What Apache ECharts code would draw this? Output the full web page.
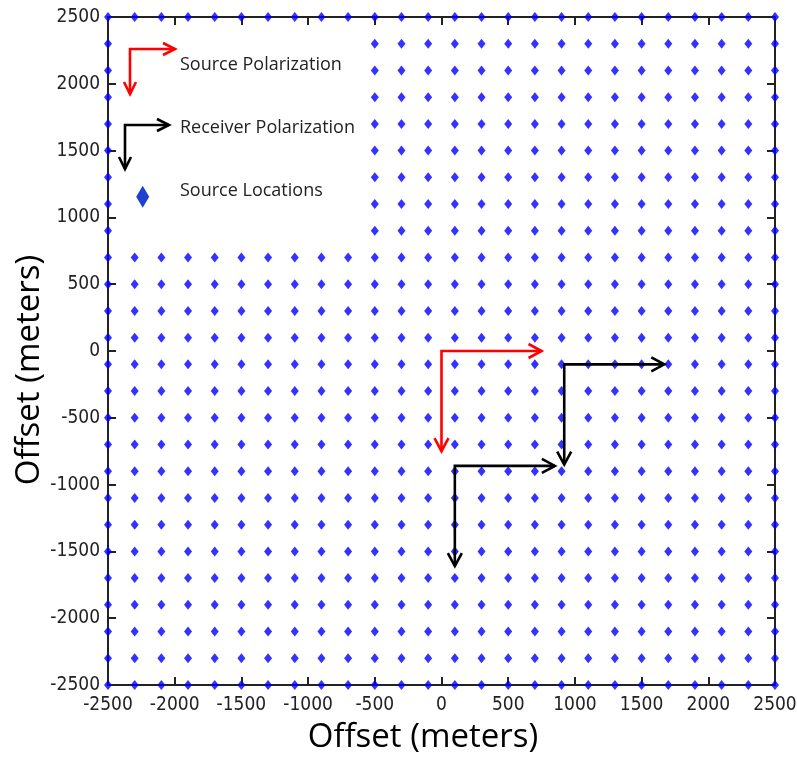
<!DOCTYPE html>
<html>
<head>
<meta charset="utf-8">
<script src="https://cdn.jsdelivr.net/npm/echarts@6/dist/echarts.min.js"></script>
<style>
  html, body { margin: 0; padding: 0; background: #ffffff; }
  #chart { width: 797px; height: 759px; }
</style>
</head>
<body>
<div id="chart"></div>
<script>
// Source grid: column and row offsets (meters)
const colX = [-2500, -2300, -2100, -1900, -1700, -1500, -1300, -1100, -900, -700, -500, -300, -100,
              100, 300, 500, 700, 900, 1100, 1300, 1500, 1700, 1900, 2100, 2300, 2500];
// rows that span the full width
const rowsFull = [-2500, -2300, -2100, -1900, -1700, -1500, -1300, -1100, -900, -700, -500, -300, -100,
                  100, 300, 500, 700, 2500];
// rows in the upper block, where the upper-left corner is empty
const rowsUpper = [900, 1100, 1300, 1500, 1700, 1900, 2100, 2300];
const colsUpper = [-2500, -500, -300, -100, 100, 300, 500, 700, 900, 1100, 1300, 1500, 1700, 1900, 2100, 2300, 2500];

// Polarization arrows: [cornerX, cornerY, armLength]
const sourcePolArrows = [[0, 0, 750]];
const receiverPolArrows = [[920, -100, 750], [100, -860, 750]];

// Axis ticks
const axisMin = -2500, axisMax = 2500, axisStep = 500;

const sourcePoints = [];
rowsFull.forEach(y => colX.forEach(x => sourcePoints.push([x, y])));
rowsUpper.forEach(y => colsUpper.forEach(x => sourcePoints.push([x, y])));

const labelFont = {
  fontFamily: '"Liberation Sans Narrow", "Arial Narrow", "DejaVu Sans Condensed", sans-serif',
  fontSize: 19, color: '#222',
  formatter: v => String(v)
};
const lineStyle = { color: '#222', width: 2 };

function arrowRenderer(color) {
  return function (params, api) {
    const x = api.value(0), y = api.value(1), L = api.value(2);
    const c = api.coord([x, y]);
    const r = api.coord([x + L, y]);
    const d = api.coord([x, y - L]);
    const h = 13, w = 7;
    const st = { stroke: color, lineWidth: 2.6, fill: null, lineJoin: 'miter' };
    return {
      type: 'group',
      children: [
        { type: 'polyline', shape: { points: [r, c, d] }, style: st },
        { type: 'polyline', shape: { points: [[r[0] - h, r[1] - w], r, [r[0] - h, r[1] + w]] }, style: st },
        { type: 'polyline', shape: { points: [[d[0] - w, d[1] - h], d, [d[0] + w, d[1] - h]] }, style: st }
      ]
    };
  };
}

function legendArrow(cx, cy, len, color) {
  const h = 12, w = 6;
  const st = { stroke: color, lineWidth: 2.6, fill: null };
  const r = [cx + len, cy], d = [cx, cy + len];
  return [
    { type: 'polyline', shape: { points: [r, [cx, cy], d] }, style: st },
    { type: 'polyline', shape: { points: [[r[0] - h, r[1] - w], r, [r[0] - h, r[1] + w]] }, style: st },
    { type: 'polyline', shape: { points: [[d[0] - w, d[1] - h], d, [d[0] + w, d[1] - h]] }, style: st }
  ];
}

const textFamily = '"Open Sans", sans-serif';

const chart = echarts.init(document.getElementById('chart'), null, { renderer: 'canvas' });
chart.setOption({
  animation: false,
  backgroundColor: '#ffffff',
  grid: { left: 108, right: 22, top: 17, bottom: 74, containLabel: false, outerBoundsMode: 'none' },
  xAxis: [
    {
      type: 'value', min: axisMin, max: axisMax, interval: axisStep, position: 'bottom',
      axisLine: { show: true, onZero: false, lineStyle },
      axisTick: { show: true, inside: true, length: 8, lineStyle },
      axisLabel: Object.assign({ margin: 11 }, labelFont),
      splitLine: { show: false }
    },
    {
      type: 'value', min: axisMin, max: axisMax, interval: axisStep, position: 'top',
      axisLine: { show: true, onZero: false, lineStyle },
      axisTick: { show: true, inside: true, length: 8, lineStyle },
      axisLabel: { show: false },
      splitLine: { show: false }
    }
  ],
  yAxis: [
    {
      type: 'value', min: axisMin, max: axisMax, interval: axisStep, position: 'left',
      axisLine: { show: true, onZero: false, lineStyle },
      axisTick: { show: true, inside: true, length: 8, lineStyle },
      axisLabel: Object.assign({ margin: 8 }, labelFont),
      splitLine: { show: false }
    },
    {
      type: 'value', min: axisMin, max: axisMax, interval: axisStep, position: 'right',
      axisLine: { show: true, onZero: false, lineStyle },
      axisTick: { show: true, inside: true, length: 8, lineStyle },
      axisLabel: { show: false },
      splitLine: { show: false }
    }
  ],
  series: [
    {
      name: 'Source Locations',
      type: 'scatter',
      data: sourcePoints,
      symbol: 'diamond',
      symbolSize: [8, 10],
      clip: false,
      itemStyle: { color: '#0000ff' },
      z: 5
    },
    {
      name: 'Source Polarization',
      type: 'custom',
      data: sourcePolArrows,
      renderItem: arrowRenderer('#ff0000'),
      encode: { x: 0, y: 1 },
      clip: false,
      z: 6
    },
    {
      name: 'Receiver Polarization',
      type: 'custom',
      data: receiverPolArrows,
      renderItem: arrowRenderer('#000000'),
      encode: { x: 0, y: 1 },
      clip: false,
      z: 6
    }
  ],
  graphic: [
    // axis titles
    { type: 'text', x: 423, y: 738, style: { text: 'Offset (meters)', fontSize: 33, fontFamily: textFamily, fill: '#000', textAlign: 'center', textVerticalAlign: 'middle' } },
    { type: 'text', x: 30, y: 370, rotation: Math.PI / 2, style: { text: 'Offset (meters)', fontSize: 33, fontFamily: textFamily, fill: '#000', textAlign: 'center', textVerticalAlign: 'middle' } },
    // legend
    ...legendArrow(130, 49, 45, '#ff0000'),
    ...legendArrow(125, 125, 44, '#000000'),
    { type: 'polygon', shape: { points: [[142.7, 185.7], [149.2, 196.7], [142.7, 207.7], [136.2, 196.7]] }, style: { fill: '#1f3fd0' } },
    { type: 'text', x: 180, y: 65, style: { text: 'Source Polarization', fontSize: 18, fontFamily: textFamily, fill: '#222', textVerticalAlign: 'middle' } },
    { type: 'text', x: 180, y: 128, style: { text: 'Receiver Polarization', fontSize: 18, fontFamily: textFamily, fill: '#222', textVerticalAlign: 'middle' } },
    { type: 'text', x: 180, y: 191, style: { text: 'Source Locations', fontSize: 18, fontFamily: textFamily, fill: '#222', textVerticalAlign: 'middle' } }
  ]
});
</script>
</body>
</html>
